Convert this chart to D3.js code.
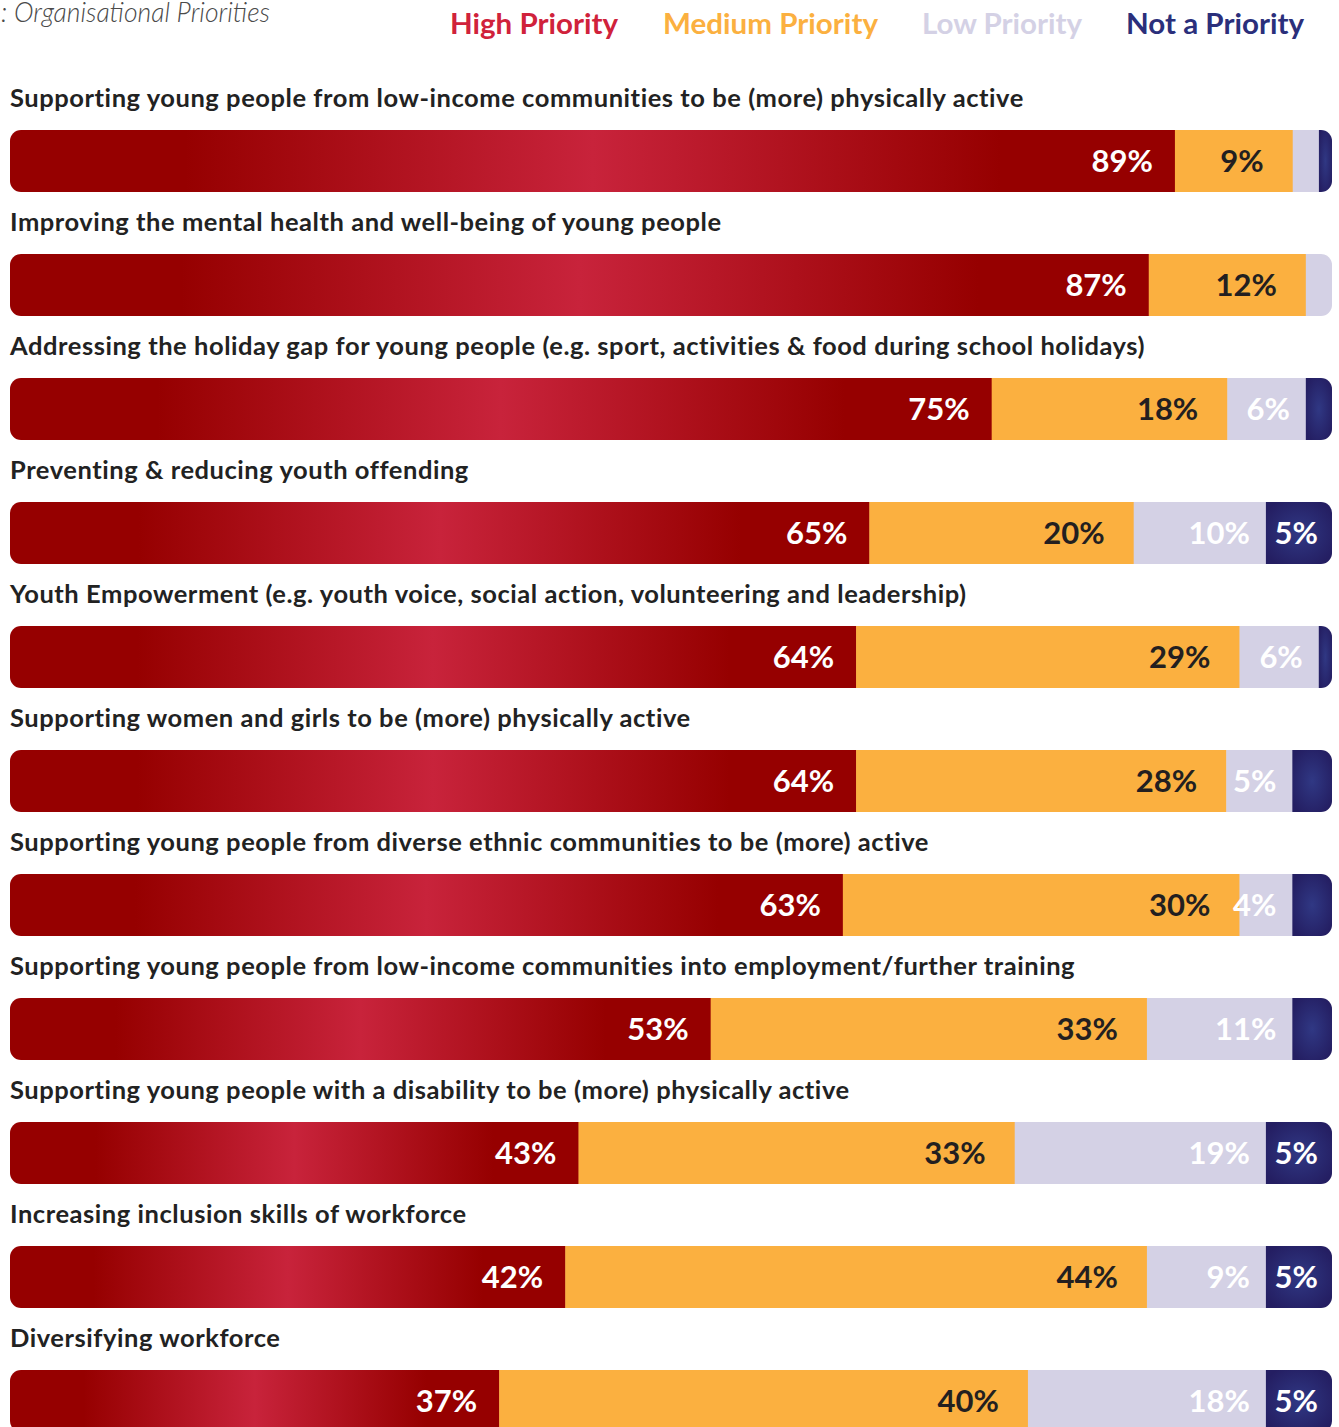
<!DOCTYPE html>
<html>
<head>
<meta charset="utf-8">
<script src="https://cdn.jsdelivr.net/npm/d3@7"></script>
<style>
  html, body { margin: 0; padding: 0; background: #ffffff; }
  svg { display: block; }
</style>
</head>
<body>
<svg id="chart" width="1339" height="1427"></svg>
<script>
// Priority areas, listed top to bottom
const categories = [
  "Supporting young people from low-income communities to be (more) physically active",
  "Improving the mental health and well-being of young people",
  "Addressing the holiday gap for young people (e.g. sport, activities & food during school holidays)",
  "Preventing & reducing youth offending",
  "Youth Empowerment (e.g. youth voice, social action, volunteering and leadership)",
  "Supporting women and girls to be (more) physically active",
  "Supporting young people from diverse ethnic communities to be (more) active",
  "Supporting young people from low-income communities into employment/further training",
  "Supporting young people with a disability to be (more) physically active",
  "Increasing inclusion skills of workforce",
  "Diversifying workforce"
];

// Share of organisations (%) per priority level
const highPriority   = [89, 87, 75, 65, 64, 64, 63, 53, 43, 42, 37];
const mediumPriority = [9, 12, 18, 20, 29, 28, 30, 33, 33, 44, 40];
const lowPriority    = [2, 2, 6, 10, 6, 5, 4, 11, 19, 9, 18];
const notAPriority   = [1, 0, 2, 5, 1, 3, 3, 3, 5, 5, 5];

const seriesNames = ["High Priority", "Medium Priority", "Low Priority", "Not a Priority"];
const chartTitle = "Figure 2: Organisational Priorities";

// Segments below this share are left unlabelled
const minLabelled = 4;

const svg = d3.select("#chart");

const seriesValues = [highPriority, mediumPriority, lowPriority, notAPriority];
const fills = ["url(#gradHigh)", "#fbb040", "#d4d1e5", "url(#gradNot)"];
const legendColors = ["#d0223b", "#fbb040", "#d4d1e5", "#2b2f7b"];
const labelColors = ["#ffffff", "#231f20", "#ffffff", "#ffffff"];
const labelPad = [22, 29, 16, 14];

// Gradients
const defs = svg.append("defs");
const gHigh = defs.append("linearGradient").attr("id", "gradHigh")
  .attr("x1", 0).attr("x2", 1).attr("y1", 0).attr("y2", 0);
[[0, "#960000"], [0.15, "#960000"], [0.5, "#c8233b"], [0.85, "#960000"], [1, "#960000"]]
  .forEach(([o, c]) => gHigh.append("stop").attr("offset", o).attr("stop-color", c));
const gNot = defs.append("radialGradient").attr("id", "gradNot")
  .attr("cx", 0.5).attr("cy", 0.5).attr("r", 0.6);
[[0, "#303884"], [1, "#241e62"]]
  .forEach(([o, c]) => gNot.append("stop").attr("offset", o).attr("stop-color", c));

// Title (its figure number runs past the left edge)
svg.append("text")
  .attr("x", 270).attr("y", 22)
  .attr("text-anchor", "end")
  .attr("font-family", "Lato, sans-serif")
  .attr("font-style", "italic")
  .attr("font-weight", 300)
  .attr("font-size", 26.5)
  .attr("fill", "#4a4a4a")
  .text(chartTitle);

// Legend
const legendX = [450, 663, 922, 1126];
const legendW = [168, 215, 160, 178];
svg.append("g").selectAll("text")
  .data(seriesNames)
  .join("text")
  .attr("x", (d, i) => legendX[i])
  .attr("y", 34)
  .attr("textLength", (d, i) => legendW[i])
  .attr("lengthAdjust", "spacingAndGlyphs")
  .attr("font-family", "Lato, sans-serif")
  .attr("font-weight", 700)
  .attr("font-size", 29)
  .attr("fill", (d, i) => legendColors[i])
  .text(d => d);

// Row layout
const y = d3.scaleBand()
  .domain(categories)
  .range([68, 68 + 124 * categories.length])
  .padding(0);
const barTop = 62, barH = 62;
const x0 = 10, x1 = 1332;

const rows = svg.append("g").selectAll("g.row")
  .data(categories)
  .join("g")
  .attr("class", "row")
  .attr("transform", d => `translate(0,${y(d)})`);

rows.append("text")
  .attr("x", x0).attr("y", 39)
  .attr("font-family", "Lato, sans-serif")
  .attr("font-weight", 700)
  .attr("font-size", 25.5)
  .attr("letter-spacing", 0.55)
  .attr("fill", "#222222")
  .text(d => d);

rows.each(function(cat, r) {
  const g = d3.select(this);
  const vals = seriesValues.map(s => s[r]);
  const total = d3.sum(vals);
  const x = d3.scaleLinear().domain([0, total]).range([x0, x1]);

  const clipId = "clip" + r;
  g.append("clipPath").attr("id", clipId)
    .append("rect")
    .attr("x", x0).attr("y", barTop)
    .attr("width", x1 - x0).attr("height", barH)
    .attr("rx", 11).attr("ry", 11);

  const segs = [];
  let acc = 0;
  vals.forEach((v, i) => { segs.push({ i, v, start: acc, end: acc + v }); acc += v; });

  const bar = g.append("g").attr("clip-path", `url(#${clipId})`);
  bar.selectAll("rect")
    .data(segs.filter(s => s.v > 0))
    .join("rect")
    .attr("x", s => x(s.start))
    .attr("y", barTop)
    .attr("width", s => x(s.end) - x(s.start) + (s.end < total ? 0.5 : 0))
    .attr("height", barH)
    .attr("fill", s => fills[s.i]);

  g.selectAll("text.val")
    .data(segs.filter(s => s.v >= minLabelled))
    .join("text")
    .attr("class", "val")
    .attr("x", s => x(s.end) - labelPad[s.i])
    .attr("y", barTop + 42)
    .attr("text-anchor", "end")
    .attr("font-family", "Lato, sans-serif")
    .attr("font-weight", 700)
    .attr("font-size", 31)
    .attr("fill", s => labelColors[s.i])
    .text(s => s.v + "%");
});
</script>
</body>
</html>
